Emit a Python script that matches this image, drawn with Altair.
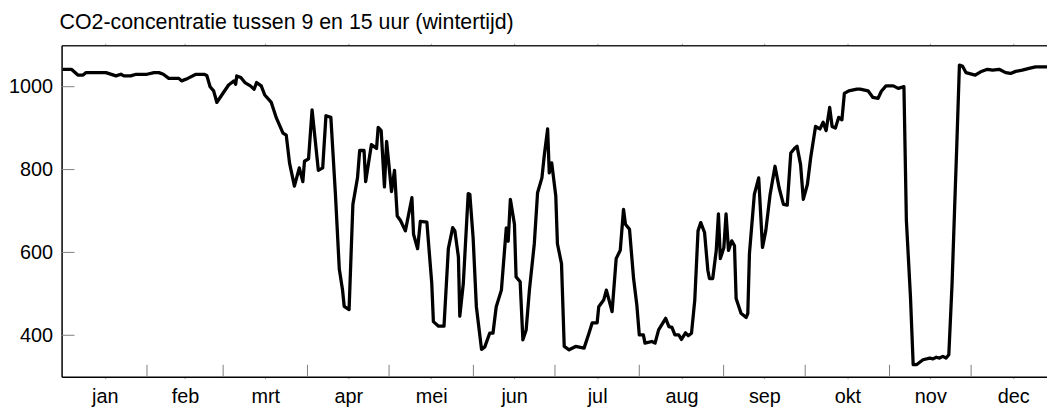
import json
import altair as alt
import pandas as pd

DAG = [0, 3.2, 5.6, 7.5, 8.6, 15.9, 19.6, 21.4, 22.5, 25, 27, 31, 33.6, 35.4, 37, 39, 42.7, 43.7, 46, 49,
       52, 53, 54.2, 55.5, 56.7, 58.5, 61, 63, 63.6, 64, 65.5, 67, 69, 70.4, 71.3, 73, 74.3, 76.7, 78.6, 81,
       82.2, 83.4, 85.2, 87, 88.3, 88.9, 90.4, 91.7, 94, 95.6, 96.8, 98.6, 100.3, 101.7, 102.9, 103.5, 105.3, 106.7, 108.4, 109.2,
       110.8, 111.4, 113.5, 115.4, 116, 117.1, 118.3, 119.1, 120.9, 122, 123, 124.2, 126, 128.4, 129, 130.5, 131.5, 133.9, 135.7, 136.3,
       138.2, 140.2, 141.8, 143.4, 144.2, 145.5, 146, 147.3, 149.1, 149.7, 150.9, 152.1, 154, 155.2, 157, 158.2, 159.4, 161.3, 163.1, 163.8,
       164.6, 166.1, 166.7, 168.2, 169.2, 170.4, 171.6, 173.4, 174.6, 176.2, 177.1, 178.3, 178.9, 179.8, 181.3, 181.9, 183.4, 184.4, 186.2, 188.6,
       191.7, 193.5, 194.7, 196.5, 197.1, 198.9, 199.9, 202, 203.5, 205, 206.2, 206.9, 208.4, 209.9, 211.1, 212, 213.5, 214.1, 216.6, 217.8,
       219.1, 221.7, 222.9, 224, 225.1, 226.5, 227.5, 229, 230, 231.2, 232.4, 233.6, 234.6, 236, 237.2, 237.8, 239, 240.3, 241.1, 241.8,
       243.1, 243.9, 244.8, 246, 247, 247.6, 249.4, 251.3, 251.9, 252.5, 254.3, 255.9, 257.3, 258.5, 260.1, 261.9, 263.4, 265, 266.4, 267.7,
       269.2, 270, 271.3, 272.3, 273.8, 275, 276.8, 278.4, 279.6, 280.7, 282, 282.9, 284.1, 285.3, 286.5, 287.4, 289, 292, 293.2, 296.1,
       297.9, 299.8, 301, 302.7, 305.4, 307.2, 309.3, 310.2, 311.7, 312.7, 313.9, 316.3, 318.8, 320, 321.2, 322.4, 323.6, 324.8, 325.8, 327,
       327.9, 328.7, 329.7, 330.9, 332.1, 335.5, 337.5, 340, 341.9, 344.3, 346.7, 348.5, 350.4, 352.8, 355.3, 357.7, 364]
CO2 = [1042, 1042, 1028, 1028, 1034, 1034, 1026, 1030, 1026, 1026, 1030, 1030, 1034, 1034, 1030, 1020, 1020, 1014, 1020, 1030,
       1030, 1027, 1000, 990, 962, 980, 1004, 1014, 1006, 1026, 1022, 1010, 1002, 994, 1010, 1002, 980, 962, 924, 888,
       883, 816, 760, 804, 771, 820, 826, 944, 798, 804, 930, 926, 738, 560, 509, 470, 462, 716, 780, 846,
       846, 771, 860, 851, 902, 894, 758, 868, 747, 798, 688, 677, 652, 732, 644, 609, 675, 673, 525, 433,
       422, 422, 609, 660, 652, 589, 446, 525, 742, 740, 636, 469, 366, 372, 405, 405, 469, 509, 659, 627,
       728, 668, 541, 529, 389, 413, 509, 621, 744, 780, 836, 898, 792, 816, 736, 621, 573, 373, 365, 373,
       369, 405, 430, 430, 469, 485, 509, 457, 585, 605, 704, 668, 656, 537, 473, 401, 401, 381, 385, 381,
       413, 441, 421, 419, 401, 401, 390, 406, 399, 405, 485, 652, 672, 648, 557, 537, 537, 605, 693, 585,
       612, 693, 605, 628, 616, 489, 453, 443, 453, 597, 740, 780, 612, 652, 740, 808, 756, 716, 714, 840,
       852, 856, 812, 728, 764, 828, 904, 898, 914, 894, 950, 904, 900, 926, 920, 984, 990, 994, 994, 990,
       974, 972, 989, 1002, 1002, 996, 1000, 677, 493, 329, 329, 341, 345, 343, 347, 345, 349, 345, 353, 525,
       700, 852, 1052, 1049, 1034, 1028, 1036, 1042, 1040, 1042, 1034, 1032, 1037, 1040, 1044, 1048, 1048]

MAANDEN = ["jan", "feb", "mrt", "apr", "mei", "jun", "jul", "aug", "sep", "okt", "nov", "dec"]
MAANDLENGTE = [31, 28, 31, 30, 31, 30, 31, 31, 30, 31, 30, 31]
Y_TICKS = [400, 600, 800, 1000]
TITEL = "CO2-concentratie tussen 9 en 15 uur (wintertijd)"

starts = []
s = 0
for n in MAANDLENGTE:
    starts.append(s)
    s += n
mids = [st + n / 2 for st, n in zip(starts, MAANDLENGTE)]

FONT = "Liberation Sans"
W, H = 993, 334

df = pd.DataFrame({"dag": DAG, "co2": CO2})
df_ms = pd.DataFrame({"start": starts[1:]})
df_yt = pd.DataFrame({"tick": Y_TICKS})

xscale = alt.Scale(domain=[-0.4, 361.9], nice=False, zero=False)
yscale = alt.Scale(domain=[300, 1100], nice=False, zero=False)

label_expr = f"{json.dumps(MAANDEN)}[indexof({json.dumps(mids)}, datum.value)]"

yaxis = alt.Axis(values=Y_TICKS, format="d", title=None, grid=False, ticks=False, tickSize=0,
                 labelFont=FONT, labelFontSize=20, labelColor="#000", labelPadding=9,
                 domainColor="#000", domainWidth=1.5)

line = alt.Chart(df).mark_line(color="#000", strokeWidth=3.3, clip=True, strokeJoin="round").encode(
    x=alt.X("dag:Q", scale=xscale,
            axis=alt.Axis(values=mids, labelExpr=label_expr, title=None, grid=False,
                          ticks=True, tickSize=2, tickColor="#999",
                          labelFont=FONT, labelFontSize=20, labelColor="#000", labelPadding=8,
                          domainColor="#000", domainWidth=1.5, orient="bottom")),
    y=alt.Y("co2:Q", scale=yscale, axis=yaxis),
)

xticks = alt.Chart(df_ms).mark_rule(color="#808080", strokeWidth=1).encode(
    x=alt.X("start:Q", scale=xscale,
            axis=alt.Axis(orient="top", values=mids, labels=False, title=None, grid=False,
                          ticks=True, tickSize=2, tickColor="#999",
                          domainColor="#222", domainWidth=1.3)),
    y=alt.value(H),
    y2=alt.value(H - 12),
)

yticks = alt.Chart(df_yt).mark_rule(color="#808080", strokeWidth=1).encode(
    y=alt.Y("tick:Q", scale=yscale, axis=yaxis),
    x=alt.value(0),
    x2=alt.value(13),
)

chart = alt.layer(line, xticks, yticks).resolve_axis(x="independent").properties(
    width=W, height=H,
    title=alt.TitleParams(TITEL, anchor="start", frame="group", font=FONT, fontSize=21.5,
                          fontWeight="normal", color="#000", baseline="alphabetic",
                          offset=16, dx=-2, dy=24),
    autosize=alt.AutoSizeParams(type="none"),
    padding={"left": 54, "top": 36, "right": 0, "bottom": 32},
).configure_view(stroke=None)

chart.save("out.html", embed_options={"renderer": "svg", "actions": False})
